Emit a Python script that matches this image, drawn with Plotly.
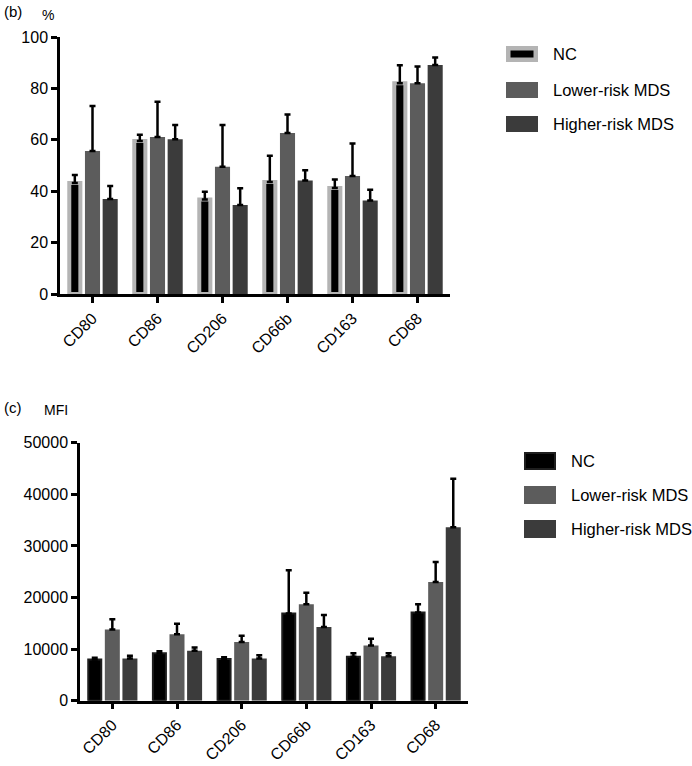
import plotly.graph_objects as go

# ---------------- data ----------------
categories = ["CD80", "CD86", "CD206", "CD66b", "CD163", "CD68"]
series_names = ["NC", "Lower-risk MDS", "Higher-risk MDS"]

# panel (b): percentage
pct_nc = [43.2, 59.5, 36.8, 43.6, 41.2, 82.0]
pct_nc_err = [3.1, 2.5, 3.0, 10.2, 3.4, 7.0]
pct_low = [55.6, 61.1, 49.5, 62.6, 45.9, 82.0]
pct_low_err = [17.6, 13.7, 16.3, 7.2, 12.7, 6.5]
pct_high = [37.0, 60.2, 34.6, 44.2, 36.4, 89.1]
pct_high_err = [5.0, 5.6, 6.5, 4.0, 4.2, 2.9]

# panel (c): MFI
mfi_nc = [8000, 9200, 8100, 16900, 8500, 17100]
mfi_nc_err = [300, 400, 300, 8400, 700, 1600]
mfi_low = [13800, 12900, 11400, 18700, 10700, 23000]
mfi_low_err = [2000, 2000, 1200, 2200, 1300, 3900]
mfi_high = [8200, 9700, 8200, 14300, 8600, 33600]
mfi_high_err = [500, 600, 600, 2300, 600, 9400]

pct_ticks = [0, 20, 40, 60, 80, 100]
mfi_ticks = [0, 10000, 20000, 30000, 40000, 50000]

# ---------------- style ----------------
W, H = 692, 766
FONT = "Liberation Sans, Arial, Helvetica, sans-serif"
C_NC = "#000000"
C_NC_EDGE_B = "#b4b4b4"
C_NC_EDGE_C = "#1e1e1e"
C_LOW = "#5c5c5c"
C_HIGH = "#3b3b3b"


def px(x):
    return x / W


def py(y):
    return 1 - y / H


fig = go.Figure()

bw = 0.232          # bar width (category units)
sp = 0.272          # spacing between bar centers


def add_panel(xa, ya, vals, errs, nc_edge, nc_line_w):
    centers = [-sp, 0.0, sp]
    colors = [C_NC, C_LOW, C_HIGH]
    for i in range(3):
        if i == 0:
            w = bw - nc_line_w / 65.0
            line = dict(color=nc_edge, width=nc_line_w)
        else:
            w = bw
            line = dict(width=0)
        fig.add_trace(go.Bar(
            x=categories, y=vals[i], name=series_names[i],
            xaxis=xa, yaxis=ya,
            width=w, offset=centers[i] - w / 2,
            marker=dict(color=colors[i], line=line),
            error_y=dict(type="data", array=errs[i], arrayminus=[0] * len(errs[i]),
                         symmetric=False, color="#000000", thickness=2.5, width=3),
            showlegend=False,
        ))


add_panel("x", "y", [pct_nc, pct_low, pct_high],
          [pct_nc_err, pct_low_err, pct_high_err], C_NC_EDGE_B, 4)
add_panel("x2", "y2", [mfi_nc, mfi_low, mfi_high],
          [mfi_nc_err, mfi_low_err, mfi_high_err], C_NC_EDGE_C, 2)

axis_common = dict(showline=True, linecolor="#000000", linewidth=2.5,
                   ticks="outside", ticklen=6, tickwidth=2.5, tickcolor="#000000",
                   showgrid=False, zeroline=False, automargin=False,
                   tickfont=dict(family=FONT, size=16, color="#000000"))

fig.update_layout(
    width=W, height=H,
    margin=dict(l=0, r=0, t=0, b=0, autoexpand=False),
    paper_bgcolor="white", plot_bgcolor="white",
    barmode="overlay",
    showlegend=False,
    font=dict(family=FONT, size=16, color="#000000"),
    xaxis=dict(domain=[px(60), px(450)], anchor="y", range=[-0.5, 5.5],
               tickangle=-45, **axis_common),
    yaxis=dict(domain=[py(294), py(37)], anchor="x", range=[0, 100],
               tickvals=pct_ticks, **axis_common),
    xaxis2=dict(domain=[px(80), px(468)], anchor="y2", range=[-0.5, 5.5],
                tickangle=-45, **axis_common),
    yaxis2=dict(domain=[py(700.7), py(442.7)], anchor="x2", range=[0, 50000],
                tickvals=mfi_ticks, tickformat="d", **axis_common),
)

# panel labels
ann = [
    ("(b)", 2, 11, 15), ("%", 40, 15, 14),
    ("(c)", 2, 407, 15), ("MFI", 42, 410, 14),
]
for t, x, y, s in ann:
    fig.add_annotation(text=t, x=px(x), y=py(y), xref="paper", yref="paper",
                       xanchor="left", yanchor="middle", showarrow=False,
                       font=dict(family=FONT, size=s, color="#000000"))

# manual legends
def legend(x0, x1, ycenters, h, text_x, nc_edge, nc_w):
    fills = [C_NC, C_LOW, C_HIGH]
    for i, yc in enumerate(ycenters):
        if i == 0:
            d = nc_w / 2
            fig.add_shape(type="rect", xref="paper", yref="paper",
                          x0=px(x0 + d), x1=px(x1 - d),
                          y0=py(yc + h / 2 - d), y1=py(yc - h / 2 + d),
                          fillcolor=fills[i], line=dict(color=nc_edge, width=nc_w))
        else:
            fig.add_shape(type="rect", xref="paper", yref="paper",
                          x0=px(x0), x1=px(x1), y0=py(yc + h / 2), y1=py(yc - h / 2),
                          fillcolor=fills[i], line=dict(width=0))
        fig.add_annotation(text=series_names[i], x=px(text_x), y=py(yc),
                           xref="paper", yref="paper", xanchor="left", yanchor="middle",
                           showarrow=False, font=dict(family=FONT, size=16.5, color="#000000"))


legend(506, 538, [54, 90, 124], 16, 551, C_NC_EDGE_B, 4.5)
legend(524, 556, [461, 495, 529], 18, 569, C_NC_EDGE_C, 2)

post = (
    "var h=document.documentElement, b=document.body;"
    "h.style.margin='0';h.style.padding='0';h.style.overflow='hidden';"
    "b.style.margin='0';b.style.padding='0';b.style.overflow='hidden';"
)

fig.write_html("out.html", config={"displayModeBar": False}, post_script=post)
